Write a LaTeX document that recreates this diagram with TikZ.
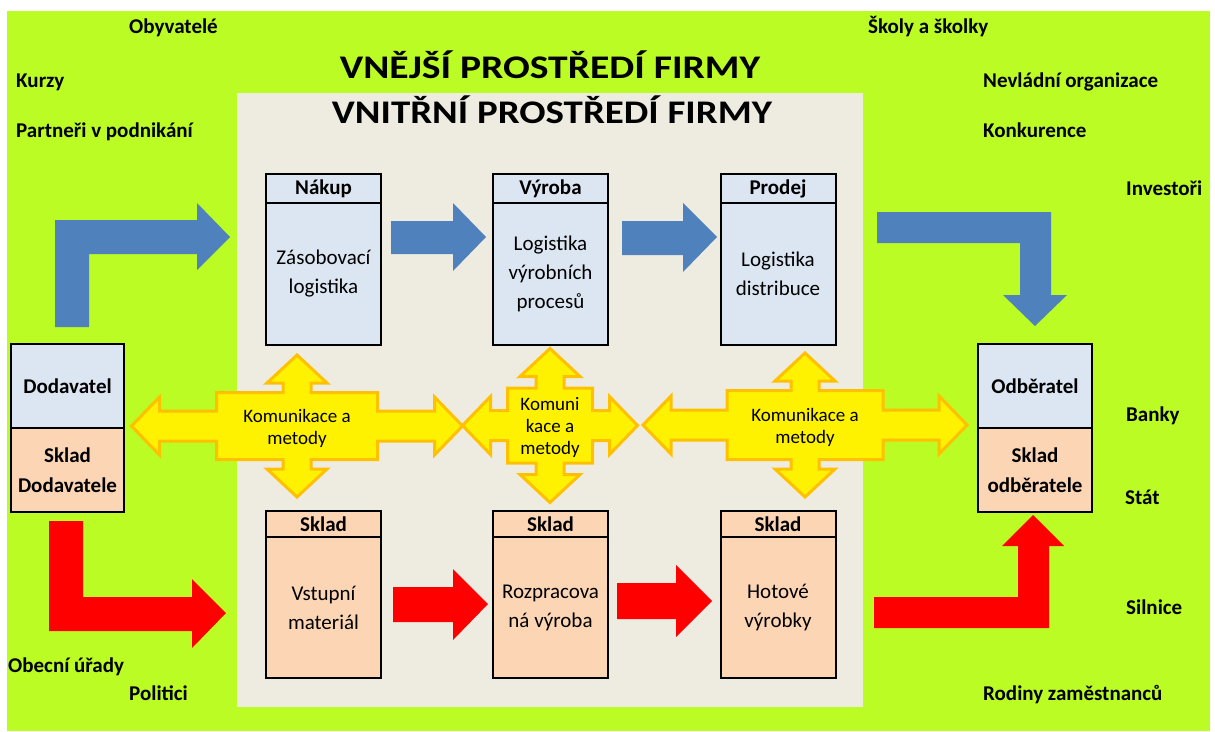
\documentclass[tikz,border=0pt]{standalone}
\usepackage{fontspec}
\setmainfont{Carlito}
\definecolor{outergreen}{RGB}{186,252,36}
\definecolor{innerbeige}{RGB}{238,236,225}
\definecolor{boxblue}{RGB}{220,230,242}
\definecolor{boxpeach}{RGB}{252,213,181}
\definecolor{arrowblue}{RGB}{79,129,189}
\definecolor{crossorange}{RGB}{255,192,0}

% four-way yellow arrow: centre x, centre y, body half-width, body half-height,
% horizontal reach, vertical reach, node name, text
\newcommand\yellowcross[8]{%
  \draw[crossshape]
    ({#1-#5},#2) -- ({#1-#5+28},{#2-29}) -- ({#1-#5+28},{#2-15}) -- ({#1-#3},{#2-15})
    -- ({#1-#3},{#2-#4}) -- ({#1-14},{#2-#4}) -- ({#1-14},{#2-#6+28}) -- ({#1-30},{#2-#6+28})
    -- (#1,{#2-#6}) -- ({#1+30},{#2-#6+28}) -- ({#1+14},{#2-#6+28}) -- ({#1+14},{#2-#4})
    -- ({#1+#3},{#2-#4}) -- ({#1+#3},{#2-15}) -- ({#1+#5-28},{#2-15}) -- ({#1+#5-28},{#2-29})
    -- ({#1+#5},#2) -- ({#1+#5-28},{#2+29}) -- ({#1+#5-28},{#2+15}) -- ({#1+#3},{#2+15})
    -- ({#1+#3},{#2+#4}) -- ({#1+14},{#2+#4}) -- ({#1+14},{#2+#6-28}) -- ({#1+30},{#2+#6-28})
    -- (#1,{#2+#6}) -- ({#1-30},{#2+#6-28}) -- ({#1-14},{#2+#6-28}) -- ({#1-14},{#2+#4})
    -- ({#1-#3},{#2+#4}) -- ({#1-#3},{#2+15}) -- ({#1-#5+28},{#2+15}) -- ({#1-#5+28},{#2+29})
    -- cycle;
  \node[crosstext] (#7) at (#1,{#2+2}) {#8};
}

\begin{document}
\begin{tikzpicture}[x=1pt,y=-1pt,
  box/.style={draw=black, line width=2pt, inner sep=0pt, outer sep=0pt, minimum width=115pt,
    align=center, font=\fontsize{21}{29}\selectfont},
  hdr/.style={box, font=\bfseries\fontsize{21}{25}\selectfont},
  sidebox/.style={box, minimum width=113pt, minimum height=84pt,
    font=\bfseries\fontsize{21}{30}\selectfont},
  outerlabel/.style={anchor=base west, inner sep=0pt, font=\bfseries\fontsize{21}{25}\selectfont},
  titletext/.style={anchor=base, inner sep=0pt, font=\bfseries\fontsize{33}{33}\selectfont},
  crossshape/.style={fill=yellow, draw=crossorange, line width=3pt, line join=miter},
  crosstext/.style={align=center, inner sep=0pt, font=\fontsize{19}{22}\selectfont},
  bluearrow/.style={fill=arrowblue},
  redarrow/.style={fill=red}]

% background areas
\fill[white] (0,0) rectangle (1215,731);
\useasboundingbox (0,0) rectangle (1215,731);
\fill[outergreen] (7,11) rectangle (1210,731);
\fill[innerbeige] (237,93) rectangle (863,707);

% titles
\node[titletext] (outertitle) at (550,78) {\scalebox{1.2}[1]{VNĚJŠÍ PROSTŘEDÍ FIRMY}};
\node[titletext] (innertitle) at (552,123) {\scalebox{1.18}[1]{VNITŘNÍ PROSTŘEDÍ FIRMY}};

% surrounding stakeholders
\node[outerlabel] (obyv) at (129,33) {Obyvatelé};
\node[outerlabel] (kurzy) at (16,87) {Kurzy};
\node[outerlabel] (partneri) at (16,137) {Partneři v podnikání};
\node[outerlabel] (skoly) at (868,33) {Školy a školky};
\node[outerlabel] (nevladni) at (983,87) {Nevládní organizace};
\node[outerlabel] (konkurence) at (983,137) {Konkurence};
\node[outerlabel] (investori) at (1126,195) {Investoři};
\node[outerlabel] (banky) at (1126,421) {Banky};
\node[outerlabel] (stat) at (1125,504) {Stát};
\node[outerlabel] (silnice) at (1126,614) {Silnice};
\node[outerlabel] (obecni) at (8,672) {Obecní úřady};
\node[outerlabel] (politici) at (129,700) {Politici};
\node[outerlabel] (rodiny) at (983,700) {Rodiny zaměstnanců};

% upper row: purchasing, production, sales
\node[hdr, fill=boxblue, minimum height=29pt] (nakupH) at (323.5,188.5) {Nákup};
\node[box, fill=boxblue, anchor=north, minimum height=142pt] (nakupB) at (nakupH.south) {Zásobovací\\logistika};
\node[hdr, fill=boxblue, minimum height=29pt] (vyrobaH) at (550.5,188.5) {Výroba};
\node[box, fill=boxblue, anchor=north, minimum height=142pt] (vyrobaB) at (vyrobaH.south) {Logistika\\výrobních\\procesů};
\node[hdr, fill=boxblue, minimum height=29pt] (prodejH) at (778,188.5) {Prodej};
\node[box, fill=boxblue, anchor=north, minimum height=142pt] (prodejB) at (prodejH.south) {Logistika\\distribuce};

% lower row: stores
\node[hdr, fill=boxpeach, minimum height=26pt] (skl1H) at (323.5,524) {Sklad};
\node[box, fill=boxpeach, anchor=north, minimum height=141pt] (skl1B) at (skl1H.south) {Vstupní\\materiál};
\node[hdr, fill=boxpeach, minimum height=26pt] (skl2H) at (550.5,524) {Sklad};
\node[box, fill=boxpeach, anchor=north, minimum height=141pt] (skl2B) at (skl2H.south) {Rozpracova\\ná výroba};
\node[hdr, fill=boxpeach, minimum height=26pt] (skl3H) at (778,524) {Sklad};
\node[box, fill=boxpeach, anchor=north, minimum height=141pt] (skl3B) at (skl3H.south) {Hotové\\výrobky};

% supplier and customer
\node[sidebox, fill=boxblue] (dod) at (67.5,386) {Dodavatel};
\node[sidebox, fill=boxpeach, anchor=north] (dodskl) at (dod.south) {Sklad\\Dodavatele};
\node[sidebox, fill=boxblue, minimum width=114pt] (odb) at (1035,386) {Odběratel};
\node[sidebox, fill=boxpeach, minimum width=114pt, anchor=north] (odbskl) at (odb.south) {Sklad\\odběratele};

% information flow (blue)
\fill[bluearrow] (55,327) -- (55,220) -- (197,220) -- (197,203) -- (230,237) -- (197,270)
  -- (197,254) -- (89,254) -- (89,327) -- cycle;
\fill[bluearrow] (391,221) -- (453,221) -- (453,203) -- (486,237) -- (453,271) -- (453,254)
  -- (391,254) -- cycle;
\fill[bluearrow] (622,221) -- (683,221) -- (683,203) -- (717,237) -- (683,272) -- (683,255)
  -- (622,255) -- cycle;
\fill[bluearrow] (877,212) -- (1051,212) -- (1051,295) -- (1067,295) -- (1035,326)
  -- (1003,295) -- (1020,295) -- (1020,243) -- (877,243) -- cycle;

% material flow (red)
\fill[redarrow] (49,521) -- (83,521) -- (83,597) -- (192,597) -- (192,579) -- (226,613)
  -- (192,648) -- (192,631) -- (49,631) -- cycle;
\fill[redarrow] (393,587) -- (453,587) -- (453,569) -- (488,604) -- (453,640) -- (453,622)
  -- (393,622) -- cycle;
\fill[redarrow] (617,583) -- (676,583) -- (676,565) -- (712,601) -- (676,637) -- (676,619)
  -- (617,619) -- cycle;
\fill[redarrow] (874,597) -- (1018,597) -- (1018,546) -- (1002,546) -- (1033,515)
  -- (1064,546) -- (1049,546) -- (1049,628) -- (874,628) -- cycle;

% communication crosses
\yellowcross{297}{426}{80.5}{33.5}{165.5}{71}{komL}{Komunikace a\\metody}
\yellowcross{550}{425.5}{42.5}{37.5}{87.5}{77}{komM}{Komuni\\kace a\\metody}
\yellowcross{805}{425}{78}{34.5}{162}{72}{komR}{Komunikace a\\metody}

\end{tikzpicture}
\end{document}
